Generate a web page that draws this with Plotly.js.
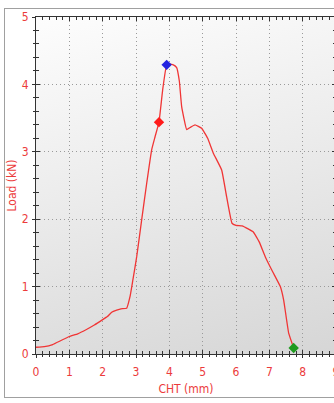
<!DOCTYPE html>
<html>
<head>
<meta charset="utf-8">
<script src="https://cdn.plot.ly/plotly-3.0.1.min.js"></script>
<style>
html,body{margin:0;padding:0;width:334px;height:403px;overflow:hidden;background:#fff;}
#frame{position:absolute;left:4px;top:8px;width:340px;height:390px;border:1px solid #a0a0a0;box-sizing:border-box;}
#bg{position:absolute;left:36px;top:17px;width:300px;height:337px;background:linear-gradient(165deg,#fdfdfd 0%,#ececec 45%,#d6d6d6 100%);}
#chart{position:absolute;left:0;top:0;width:340px;height:403px;}
</style>
</head>
<body>
<div id="frame"></div>
<div id="bg"></div>
<div id="chart"></div>
<script>
// CHT displacement (mm) and load (kN)
var cht  = [0.00,0.25,0.50,0.75,1.00,1.25,1.50,1.75,2.00,2.15,2.27,2.42,2.55,2.72,2.82,2.90,3.02,3.17,3.32,3.47,3.57,3.69,3.80,3.92,4.02,4.12,4.22,4.30,4.37,4.52,4.62,4.77,4.97,5.15,5.32,5.57,5.72,5.88,6.00,6.18,6.35,6.52,6.70,6.88,7.10,7.33,7.43,7.58,7.73];
var load = [0.10,0.11,0.14,0.20,0.26,0.30,0.36,0.43,0.51,0.56,0.62,0.65,0.67,0.68,0.85,1.08,1.44,1.99,2.53,3.03,3.22,3.44,3.92,4.29,4.30,4.29,4.25,4.05,3.67,3.33,3.36,3.40,3.35,3.20,2.98,2.73,2.33,1.94,1.91,1.90,1.86,1.81,1.66,1.44,1.22,1.00,0.80,0.31,0.09];
var markX = [3.69, 3.92, 7.73];
var markY = [3.44, 4.29, 0.09];
var markColors = ['#ff1a1a', '#2323e0', '#1f9a1f'];
var xTicks = [0,1,2,3,4,5,6,7,8,9];
var yTicks = [0,1,2,3,4,5];

var red = '#ec3b3b';
var fnt = {family:'"Liberation Sans Narrow", "DejaVu Sans Condensed", Arial, sans-serif', size:12, color:red};

var traces = [
  {x:cht, y:load, type:'scatter', mode:'lines', line:{color:'#f03535', width:1.3, shape:'spline', smoothing:0.3}, hoverinfo:'skip'},
  {x:markX, y:markY, type:'scatter', mode:'markers', marker:{symbol:'diamond', size:8, color:markColors}, hoverinfo:'skip'},
  {x:[0], y:[0], xaxis:'x2', yaxis:'y2', mode:'markers', marker:{opacity:0}, hoverinfo:'skip', showlegend:false}
];

var layout = {
  width:340, height:403,
  margin:{l:36, r:4, t:17, b:49},
  paper_bgcolor:'rgba(0,0,0,0)',
  plot_bgcolor:'rgba(0,0,0,0)',
  showlegend:false,
  xaxis:{range:[0,9], tickvals:xTicks, ticktext:xTicks.map(String), showgrid:true, gridcolor:'#9a9a9a', griddash:'1px,3px', gridwidth:1,
         zeroline:false, showline:true, linecolor:'#333', linewidth:1, mirror:'ticks',
         ticks:'inside', ticklen:4, tickcolor:'#333',
         minor:{dtick:0.2, ticks:'inside', ticklen:3, tickcolor:'#333', showgrid:false},
         tickfont:fnt, ticklabelstandoff:7,
         title:{text:'CHT (mm)', font:fnt, standoff:6}},
  yaxis:{range:[0,5], tickvals:yTicks, ticktext:yTicks.map(String), showgrid:true, gridcolor:'#9a9a9a', griddash:'1px,3px', gridwidth:1,
         zeroline:false, showline:true, linecolor:'#333', linewidth:1, mirror:'ticks',
         ticks:'inside', ticklen:4, tickcolor:'#333',
         minor:{dtick:0.2, ticks:'inside', ticklen:3, tickcolor:'#333', showgrid:false},
         tickfont:fnt, ticklabelstandoff:4,
         title:{text:'Load (kN)', font:fnt, standoff:2}},
  xaxis2:{overlaying:'x', range:[0,9], showgrid:false, zeroline:false, showticklabels:false, ticks:'outside', ticklen:3, tickcolor:'#333', dtick:1,
          minor:{dtick:0.2, ticks:'outside', ticklen:2, tickcolor:'#333'}},
  yaxis2:{overlaying:'y', range:[0,5], showgrid:false, zeroline:false, showticklabels:false, ticks:'outside', ticklen:3, tickcolor:'#333', dtick:1,
          minor:{dtick:0.2, ticks:'outside', ticklen:2, tickcolor:'#333'}}
};

Plotly.newPlot('chart', traces, layout, {displayModeBar:false, staticPlot:true});
</script>
</body>
</html>
